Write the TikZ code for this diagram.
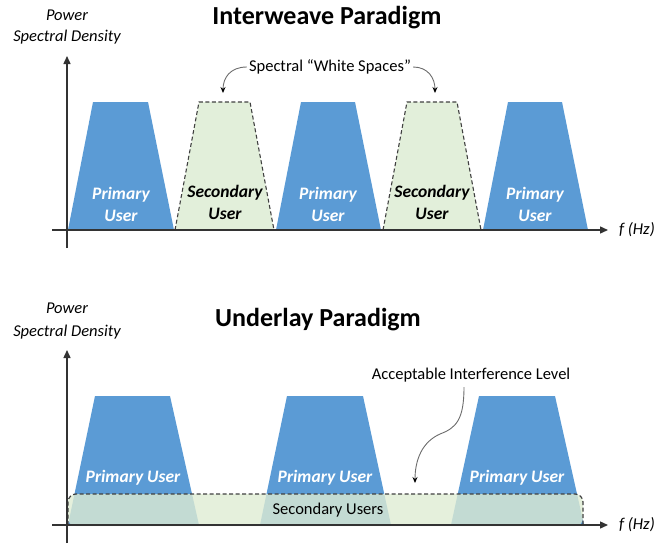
\documentclass[tikz,border=0pt]{standalone}
\usepackage{fontspec}
\setmainfont{Carlito}
\usetikzlibrary{arrows.meta}
\definecolor{pu}{HTML}{5B9BD5}
\definecolor{sufill}{HTML}{E2EFDA}
\definecolor{suover}{HTML}{DEECD3}
\definecolor{axisc}{HTML}{333333}
\definecolor{dashc}{HTML}{404040}
\begin{document}
\begin{tikzpicture}[x=1pt,y=-1pt,
  axisline/.style={draw=axisc,line width=1.4pt,-{Triangle[length=8pt,width=7pt]}},
  pubox/.style={fill=pu,draw=none},
  subox/.style={fill=sufill,draw=dashc,line width=1.1pt,dash pattern=on 4pt off 2.5pt},
  putext/.style={text=white,font=\fontsize{17.5}{22}\selectfont\bfseries\itshape,align=center,inner sep=0pt},
  sutext/.style={text=black,font=\fontsize{17.5}{22}\selectfont\bfseries\itshape,align=center,inner sep=0pt},
  axlabel/.style={font=\fontsize{16.5}{19}\selectfont\itshape,inner sep=0pt},
  titletext/.style={font=\fontsize{26}{29}\selectfont\bfseries,inner sep=0pt},
  notetext/.style={font=\fontsize{16.5}{19}\selectfont,inner sep=0pt},
  callout/.style={draw=gray!85!black,line width=0.9pt,-{Stealth[length=6pt,width=5pt,color=black,fill=black]}}
]
\useasboundingbox (0,0) rectangle (670,544);

% ===== Interweave =====
\node[titletext] (t1) at (327,18) {Interweave Paradigm};
\node[axlabel] (p1) at (67,15) {Power};
\node[axlabel] (s1) at (67,37) {Spectral Density};

\fill[pubox] (68,230) -- (93,102) -- (148,102) -- (174,230) -- cycle;
\fill[pubox] (276,230) -- (301,102) -- (355,102) -- (381,230) -- cycle;
\fill[pubox] (483,230) -- (508,102) -- (562,102) -- (588,230) -- cycle;
\path[subox] (175,230) -- (199,102) -- (250,102) -- (274,230);
\path[subox] (383,230) -- (407,102) -- (457,102) -- (481,230);

\node[putext] (u1) at (121,204) {Primary\\User};
\node[sutext] (u2) at (225,202) {Secondary\\User};
\node[putext] (u3) at (328,204) {Primary\\User};
\node[sutext] (u4) at (432,202) {Secondary\\User};
\node[putext] (u5) at (535,204) {Primary\\User};

\coordinate (x1s) at (52,230);
\coordinate (x1e) at (608,230);
\coordinate (y1s) at (67,248);
\coordinate (y1e) at (67,56);
\draw[axisline] (x1s) -- (x1e);
\draw[axisline] (y1s) -- (y1e);
\node[axlabel,anchor=west] (f1) at (619,230) {f (Hz)};

\node[notetext] (ws) at (330,67) {Spectral “White Spaces”};
\coordinate (ws1) at (223,93);
\coordinate (ws2) at (435,93);
\draw[callout] ([xshift=-2pt]ws.west) .. controls (230,67) and (223,78) .. (ws1);
\draw[callout] ([xshift=2pt]ws.east) .. controls (428,67) and (435,78) .. (ws2);

% ===== Underlay =====
\node[titletext] (t2) at (318,320) {Underlay Paradigm};
\node[axlabel] (p2) at (67,308) {Power};
\node[axlabel] (s2) at (67,332) {Spectral Density};

\fill[pubox] (68,525) -- (95,396) -- (170,396) -- (199,525) -- cycle;
\fill[pubox] (260,525) -- (287,396) -- (363,396) -- (391,525) -- cycle;
\fill[pubox] (451,525) -- (479,396) -- (555,396) -- (584,525) -- cycle;

\fill[suover,fill opacity=0.8,rounded corners=8pt] (68,526) -- (68,494) -- (583,494) -- (583,526) -- cycle;
\draw[draw=dashc,line width=1.2pt,dash pattern=on 4pt off 2.5pt,rounded corners=8pt] (68,525) -- (68,494) -- (583,494) -- (583,525);

\node[putext] (b1) at (133,478) {Primary User};
\node[putext] (b2) at (325,478) {Primary User};
\node[putext] (b3) at (517,478) {Primary User};
\node[notetext] (su) at (328,510) {Secondary Users};

\coordinate (x2s) at (52,525);
\coordinate (x2e) at (608,525);
\coordinate (y2s) at (67,543);
\coordinate (y2e) at (67,350);
\draw[axisline] (x2s) -- (x2e);
\draw[axisline] (y2s) -- (y2e);
\node[axlabel,anchor=west] (f2) at (619,525) {f (Hz)};

\node[notetext] (ail) at (471,375) {Acceptable Interference Level};
\coordinate (ailtip) at (415,483);
\draw[callout] (464,387) .. controls (464,420) and (456,428) .. (440,434) .. controls (422,442) and (415,460) .. (ailtip);
\end{tikzpicture}
\end{document}
